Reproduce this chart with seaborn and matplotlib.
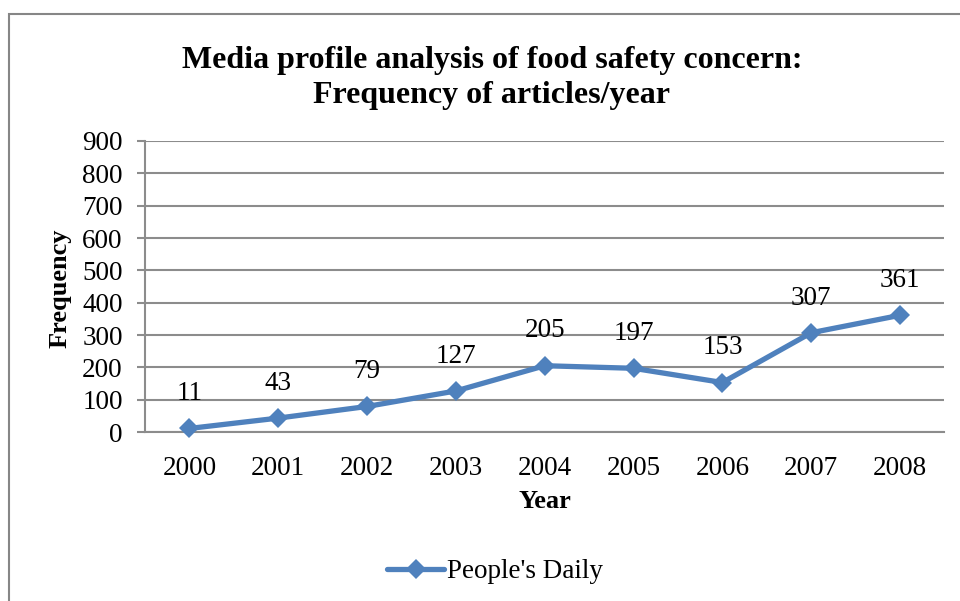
import matplotlib
matplotlib.use("Agg")
import matplotlib.pyplot as plt
from matplotlib.patches import Rectangle
import seaborn as sns
import pandas as pd

years = ["2000", "2001", "2002", "2003", "2004", "2005", "2006", "2007", "2008"]
articles = [11, 43, 79, 127, 205, 197, 153, 307, 361]
series_name = "People's Daily"
y_ticks = [0, 100, 200, 300, 400, 500, 600, 700, 800, 900]

sns.set_theme(style="white")
plt.rcParams["font.family"] = ["Liberation Serif", "DejaVu Serif"]
plt.rcParams["text.color"] = "black"

df = pd.DataFrame({"Year": years, "Frequency": articles, "Source": series_name})
df["pos"] = range(len(years))

W, H = 960, 601
fig = plt.figure(figsize=(W / 100, H / 100), dpi=100)
ax = fig.add_axes([145 / W, 1 - 432 / H, (944.5 - 145) / W, (432 - 141) / H])

line_color = "#4F81BD"
grid_color = "#8C8C8C"
fs = 19.5

sns.lineplot(data=df, x="pos", y="Frequency", ax=ax, color=line_color,
             linewidth=3.8, marker="D", markersize=10, markeredgewidth=0,
             label=series_name, legend=False, zorder=3, clip_on=False)

ax.set_xlim(-0.5, len(years) - 0.5)
ax.set_ylim(0, 900)
ax.set_xticks(range(len(years)))
ax.set_xticklabels(years)
ax.set_yticks(y_ticks)
ax.yaxis.grid(True, color=grid_color, linewidth=1.5)
ax.set_axisbelow(True)

for s in ["top", "right"]:
    ax.spines[s].set_visible(False)
ax.spines["left"].set_color(grid_color)
ax.spines["left"].set_linewidth(1.5)
ax.spines["bottom"].set_color(grid_color)
ax.spines["bottom"].set_linewidth(1.5)

ax.tick_params(axis="y", which="both", left=True, length=6, width=1.5,
               color=grid_color, labelsize=fs, pad=10, labelcolor="black")
ax.tick_params(axis="x", which="both", bottom=False, labelsize=fs, pad=11,
               labelcolor="black")

ax.set_xlabel("")
ax.set_ylabel("")

# value labels above each point
for i, v in enumerate(articles):
    ax.annotate(str(v), (i, v), xytext=(0, 25), textcoords="offset points",
                ha="center", va="center", fontsize=fs, color="black")

fig.text(60 / W, 1 - 288 / H, "Frequency", rotation=90, ha="center", va="center",
         fontsize=19, fontweight="bold", color="black")
fig.text(545 / W, 1 - 501 / H, "Year", ha="center", va="center",
         fontsize=19, fontweight="bold", color="black")
fig.text(492 / W, 1 - 78 / H,
         "Media profile analysis of food safety concern:\nFrequency of articles/year",
         ha="center", va="center", fontsize=23, fontweight="bold", linespacing=1.25,
         color="black")

handles, labels = ax.get_legend_handles_labels()
fig.legend(handles, labels, loc="center", bbox_to_anchor=(495 / W, 1 - 572 / H),
           frameon=False, fontsize=fs, handlelength=2.1, handletextpad=0.1,
           labelcolor="black")

fig.add_artist(Rectangle((9 / W, -0.05), 1.2, 1 - 14 / H + 0.05,
                         transform=fig.transFigure, fill=False,
                         edgecolor="#868686", linewidth=1.5))

fig.savefig("out.png", dpi=100)
